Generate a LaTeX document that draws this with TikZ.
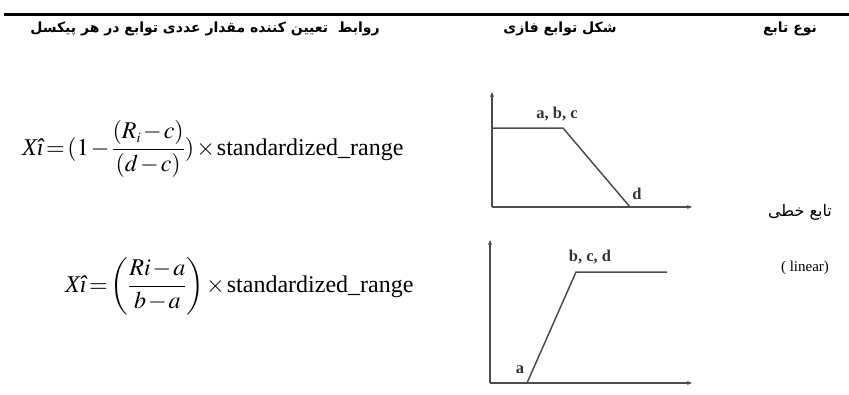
\documentclass[tikz,border=0pt]{standalone}
\usepackage{amsmath}
\usepackage{mathptmx}
\usepackage{fontspec}
\setmainfont{Liberation Serif}
\newfontfamily\fa[Script=Arabic]{DejaVu Sans}
\TeXXeTstate=1
\usetikzlibrary{arrows.meta}
\newcommand{\tightmath}{\thickmuskip=2mu\medmuskip=1.5mu}
\begin{document}
\begin{tikzpicture}[x=1pt,y=-1pt,
  head/.style={font=\fa\bfseries\fontsize{14}{16}\selectfont, inner sep=0pt},
  formula/.style={font=\fontsize{24}{28}\selectfont, inner sep=0pt, anchor=base west},
  axis/.style={draw=black!70, line width=1.5pt, -{Stealth[length=5pt,width=4pt]}},
  curve/.style={draw=black!70, line width=1.5pt},
  lab/.style={font=\bfseries\fontsize{16.5}{18}\selectfont, inner sep=0pt, text=black!80}]
\useasboundingbox (0,0) rectangle (849,394);
\draw[line width=3pt] (4,14) -- (849,14);
% headers
\node[head] (h1) at (205,29) {\beginR روابط\ \ تعیین کننده مقدار عددی توابع در هر پیکسل\endR};
\node[head] (h2) at (560,29) {\beginR شکل توابع فازی\endR};
\node[head] (h3) at (790,29) {\beginR نوع تابع\endR};
% formula 1
\node[formula] (f1) at (22,155) {$\tightmath\textit{Xî} = (1 - \dfrac{\tightmath(R_{\scriptscriptstyle i} - c)}{\tightmath(d-c)})\times \text{standardized\_range}$};
% formula 2
\node[formula] (f2) at (65,292) {$\tightmath\textit{Xî} = \left(\dfrac{\tightmath\mathit{Ri} - a}{\tightmath b-a}\right)\times \text{standardized\_range}$};
% chart 1
\coordinate (o1) at (492,207);
\coordinate (y1) at (492,92);
\coordinate (x1) at (692,207);
\coordinate (p1) at (492,128);
\coordinate (q1) at (563,128);
\coordinate (r1) at (630,207);
\draw[axis] (o1) -- (y1);
\draw[axis] (o1) -- (x1);
\draw[curve] (p1) -- (q1) -- (r1);
\node[lab] (l1) at (557,114) {a, b, c};
\node[lab] (l2) at (637,194) {d};
% chart 2
\coordinate (o2) at (490,383);
\coordinate (y2) at (490,240);
\coordinate (x2) at (692,383);
\coordinate (p2) at (527,383);
\coordinate (q2) at (576,272);
\coordinate (r2) at (667,272);
\draw[axis] (o2) -- (y2);
\draw[axis] (o2) -- (x2);
\draw[curve] (p2) -- (q2) -- (r2);
\node[lab] (l3) at (590,257) {b, c, d};
\node[lab] (l4) at (520,370) {a};
% type
\node[font=\fa\fontsize{16}{18}\selectfont, inner sep=0pt] (t1) at (800,212) {\beginR تابع خطی\endR};
\node[font=\fontsize{15}{17}\selectfont, inner sep=0pt] (t2) at (805,268) {( linear)};
\end{tikzpicture}
\end{document}
